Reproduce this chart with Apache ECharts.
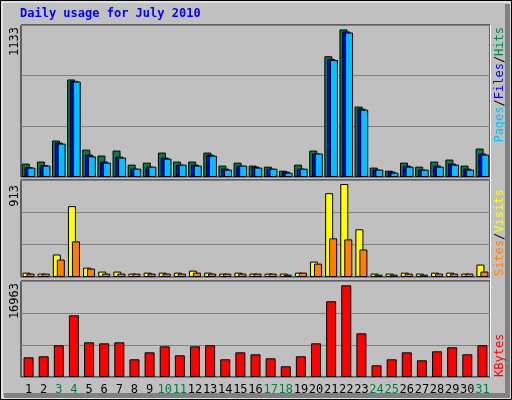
<!DOCTYPE html>
<html><head><meta charset="utf-8">
<script src="https://cdn.jsdelivr.net/npm/echarts@6/dist/echarts.min.js"></script>
<style>html,body{margin:0;padding:0;background:#c0c0c0}#c{width:512px;height:400px}</style>
</head><body><div id="c"></div>
<script>
const days = ['1','2','3','4','5','6','7','8','9','10','11','12','13','14','15','16','17','18','19','20','21','22','23','24','25','26','27','28','29','30','31'];
const weekends = ['3','4','10','11','17','18','24','25','31'];
const hits  = [100,115,272,727,204,160,197,92,107,182,115,115,182,85,107,85,77,47,92,197,900,1100,525,70,47,107,77,115,130,85,212];
const files = [75,90,257,715,167,115,152,62,77,145,92,92,167,62,85,77,62,40,62,175,880,1085,510,55,40,85,55,85,100,62,175];
const pages = [70,85,249,712,154,107,145,62,77,137,92,85,159,55,85,70,62,32,62,175,872,1077,502,55,32,77,55,77,92,55,167];
const visits = [41,32,212,667,88,51,51,32,41,41,41,60,41,32,41,32,32,32,41,145,789,875,449,32,32,41,32,41,41,32,117];
const sites  = [32,32,164,335,79,32,32,32,32,32,32,41,32,32,32,32,32,22,41,126,364,354,259,22,22,32,22,32,32,32,51];
const kbytes = [3480,3660,5600,10900,6130,5950,6130,3130,4360,5420,3830,5420,5600,3130,4360,4010,3300,1890,3660,5950,13380,16200,7720,2070,3130,4360,2950,4540,5250,4010,5600];
const maxTop = 1133, maxMid = 913, maxBot = 16963;

const grids = [
  {left:21, width:469, top:25, height:152},
  {left:21, width:469, top:180, height:97},
  {left:21, width:469, top:281, height:96}
];
function xa(i, show){return {type:'category', gridIndex:i, data:days, boundaryGap:true,
  axisLine:{show:false}, axisTick:{show:false},
  axisLabel:{show:show, interval:0, fontFamily:'DejaVu Sans Mono', fontSize:12, margin:7,
    color:(v)=>weekends.includes(v)?'#008040':'#000'}};}
function ya(i, m){return {type:'value', gridIndex:i, min:0, max:m, interval:m/3,
  axisLabel:{show:false}, axisLine:{show:false}, axisTick:{show:false},
  splitLine:{lineStyle:{color:'#808080', width:1}}};}
const bs = {borderColor:'#000', borderWidth:1};
function bar(name, data, color, xi, w, gap){return {type:'bar', name, data, xAxisIndex:xi, yAxisIndex:xi,
  barWidth:w, barGap:gap, itemStyle:Object.assign({color}, bs), animation:false, silent:true};}
const mono = 'DejaVu Sans Mono';
const chart = echarts.init(document.getElementById('c'));
chart.setOption({
  backgroundColor:'#c0c0c0',
  animation:false,
  grid: grids.map(g=>Object.assign({show:true, backgroundColor:'#c0c0c0', borderColor:'#000', borderWidth:1}, g)),
  xAxis:[xa(0,false), xa(1,false), xa(2,true)],
  yAxis:[ya(0,maxTop), ya(1,maxMid), ya(2,maxBot)],
  series:[
    bar('Hits', hits, '#008040', 0, 8, '-65%'),
    bar('Files', files, '#0000ff', 0, 8, '-65%'),
    bar('Pages', pages, '#00c0ff', 0, 8, '-65%'),
    bar('Visits', visits, '#ffff00', 1, 8, '-50%'),
    bar('Sites', sites, '#ff8000', 1, 8, '-50%'),
    bar('KBytes', kbytes, '#ff0000', 2, 10, '0%')
  ],
  graphic:[
    {type:'rect', shape:{x:0.5,y:0.5,width:511,height:399}, style:{fill:null, stroke:'#000', lineWidth:1}, z:-1},
    {type:'rect', shape:{x:2,y:2,width:508,height:396}, style:{fill:null, stroke:'#fff', lineWidth:1}, z:-1},
    {type:'rect', shape:{x:4,y:393,width:506,height:5}, style:{fill:'#808080'}, z:-1},
    {type:'rect', shape:{x:505,y:4,width:5,height:394}, style:{fill:'#808080'}, z:-1},
    {type:'line', shape:{x1:490.5,y1:25,x2:490.5,y2:377}, style:{stroke:'#fff', lineWidth:1}, z:10},
    {type:'text', left:20, top:8, style:{text:'Daily usage for July 2010', fill:'#0000ff', font:'bold 12px '+mono}},
    {type:'text', x:9, y:27, rotation:Math.PI/2, style:{text:'1133', fill:'#000', font:'12px '+mono, align:'right', verticalAlign:'top'}},
    {type:'text', x:9, y:185, rotation:Math.PI/2, style:{text:'913', fill:'#000', font:'12px '+mono, align:'right', verticalAlign:'top'}},
    {type:'text', x:9, y:283, rotation:Math.PI/2, style:{text:'16963', fill:'#000', font:'12px '+mono, align:'right', verticalAlign:'top'}},
    {type:'text', x:494, y:27, rotation:Math.PI/2, style:{
      text:'{p|Pages}{s|/}{f|Files}{s|/}{h|Hits}', align:'right', verticalAlign:'top', font:'12px '+mono,
      rich:{p:{fill:'#00c0ff',font:'12px '+mono},f:{fill:'#0000ff',font:'12px '+mono},h:{fill:'#008040',font:'12px '+mono},s:{fill:'#000',font:'12px '+mono}}}},
    {type:'text', x:494, y:276, rotation:Math.PI/2, style:{
      text:'{a|Sites}{s|/}{b|Visits}', align:'left', verticalAlign:'top', font:'12px '+mono,
      rich:{a:{fill:'#ff8000',font:'12px '+mono},b:{fill:'#ffff00',font:'12px '+mono},s:{fill:'#000',font:'12px '+mono}}}},
    {type:'text', x:494, y:377, rotation:Math.PI/2, style:{text:'KBytes', fill:'#ff0000', font:'12px '+mono, align:'left', verticalAlign:'top'}}
  ]
});
</script></body></html>
